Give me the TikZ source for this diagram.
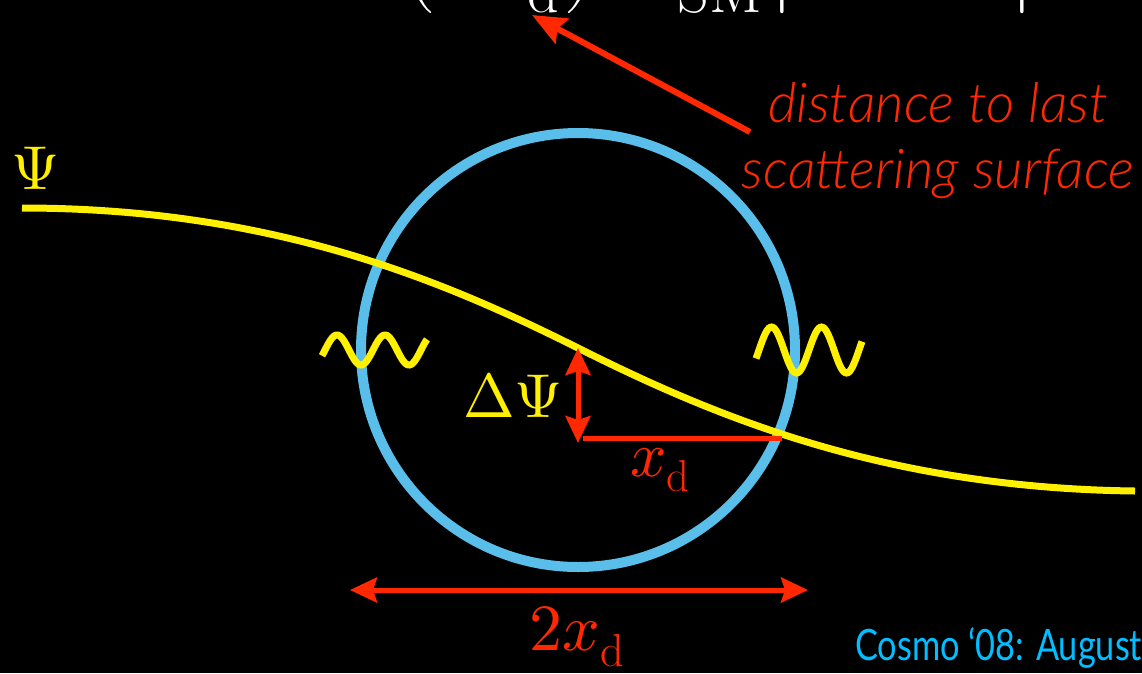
\documentclass[tikz,border=0pt]{standalone}
\usepackage{fontspec}
\usepackage{unicode-math}
\setmathfont{Latin Modern Math}
\newfontfamily\annotfont{Lato Light Italic}
\newfontfamily\footfont{Lato}
\usetikzlibrary{arrows.meta}
\definecolor{ylw}{RGB}{255,240,0}
\definecolor{ringblue}{RGB}{90,190,235}
\definecolor{redc}{RGB}{255,40,0}
\definecolor{cyanc}{RGB}{0,190,255}
\tikzset{
  ycurve/.style={draw=ylw, line width=7pt},
  ring/.style={circle, draw=ringblue, line width=10pt, minimum size=434pt, inner sep=0pt},
  redline/.style={draw=redc, line width=5pt},
  redtips/.style={{Stealth[length=27pt,width=25pt,inset=4pt]}-{Stealth[length=27pt,width=25pt,inset=4pt]}},
  ytext/.style={text=ylw, inner sep=0pt, font=\fontsize{62}{70}\selectfont},
  rtext/.style={text=redc, inner sep=0pt, font=\fontsize{64}{70}\selectfont},
  wbig/.style={text=white, inner sep=0pt, anchor=base, font=\fontsize{85}{90}\selectfont},
  wsub/.style={text=white, inner sep=0pt, anchor=base, font=\fontsize{62}{70}\selectfont},
}
\begin{document}
\begin{tikzpicture}[x=1pt,y=-1pt]
\useasboundingbox (0,0) rectangle (1142,673);
\fill[black] (0,0) rectangle (1142,673);

% clipped formula at the top
\node[wbig] (lp) at (420,-8) {$($};
\node[wsub] (dsub) at (543,12) {$\mathrm{d}$};
\node[wbig] (rp) at (580,-8) {$)$};
\node[wsub] (sm) at (720,12) {$\mathrm{SM}$};
\node[wbig] (bara) at (782,-8) {$|$};
\node[wbig] (barb) at (1022,-8) {$|$};

% ring
\node[ring] (circ) at (578,350) {};

% potential curve
\coordinate (cstart) at (22,208);
\coordinate (cmid) at (578,348);
\coordinate (cend) at (1135,491);
\draw[ycurve] (cstart) .. controls (276,208) and (448,283) .. (cmid)
  .. controls (708,413) and (880,488) .. (cend);

% waves
\draw[ycurve] plot[domain=322:427, samples=90, smooth] (\x, {350-15*sin(7.5*(\x-325))});
\draw[ycurve] plot[domain=756:862, samples=90, smooth] (\x, {350-23*sin(7.2*(\x-759))});

% labels
\node[ytext] (psi) at (36,168) {$\Psi$};
\node[ytext] (dpsi) at (513,395) {$\Delta\Psi$};
\node[rtext] (xd) at (660,470) {$x_\mathrm{d}$};
\node[rtext, font=\fontsize{66}{70}\selectfont] (twoxd) at (577,637) {$2x_\mathrm{d}$};

% red arrows
\coordinate (dtop) at (578,348);
\coordinate (dbot) at (578,443);
\draw[redline, redtips] (dtop) -- (dbot);
\coordinate (hl) at (583,438);
\coordinate (hr) at (782,438);
\draw[redline] (hl) -- (hr);
\coordinate (wl) at (350,590);
\coordinate (wr) at (808,590);
\draw[redline, redtips] (wl) -- (wr);

% annotation
\node[text=redc, inner sep=0pt, align=center, anchor=base, font=\annotfont\fontsize{55}{66}\selectfont] (annot) at (938,188) {distance to last\\scattering surface};
\coordinate (atail) at (750,132);
\coordinate (ahead) at (532,15);
\draw[redline, line width=6pt, -{Stealth[length=34pt,width=28pt,inset=5pt]}] (atail) -- (ahead);

% footer
\node[text=cyanc, inner sep=0pt, anchor=base west] (foot) at (855,660) {\resizebox{287pt}{33pt}{\footfont Cosmo ‘08: August}};
\end{tikzpicture}
\end{document}
